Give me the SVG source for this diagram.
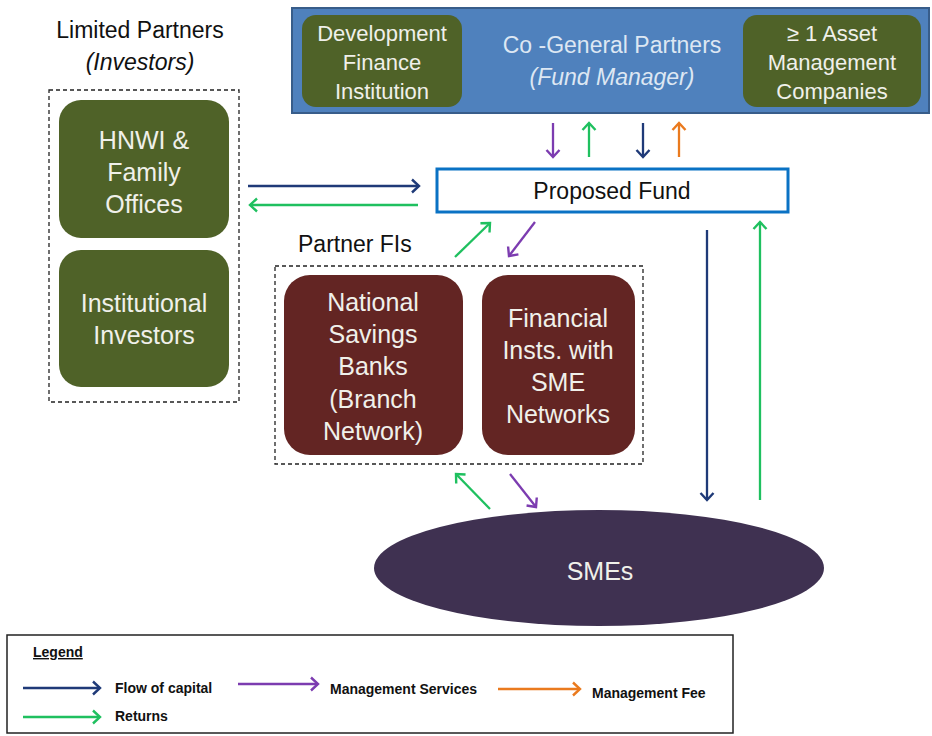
<svg xmlns="http://www.w3.org/2000/svg" width="932" height="736" viewBox="0 0 932 736">
<style>
text{font-family:"Liberation Sans","Open Sans",Arial,sans-serif;}
.lt{fill:#f0f0ea;font-size:22px;text-anchor:middle;}
.lt2{fill:#f0f0ea;font-size:25px;text-anchor:middle;}
.dk{fill:#111;font-size:23px;}
.gbox{fill:#4f6228;}
.mbox{fill:#632523;}
.dash{fill:none;stroke:#222;stroke-width:1.3;stroke-dasharray:4 3;}
.a{fill:none;stroke-width:2.3;}
.nv{stroke:#1f3a78;}
.gr{stroke:#1fc05f;}
.pu{stroke:#7c3cb0;}
.or{stroke:#ea7a1e;}
.lg{font-size:14px;font-weight:bold;fill:#111;}
</style>
<defs>
<marker id="mNv" markerWidth="16" markerHeight="16" refX="10" refY="8" orient="auto" markerUnits="userSpaceOnUse"><path d="M3,1.5 L10,8 L3,14.5" fill="none" stroke="#1f3a78" stroke-width="2.4"/></marker>
<marker id="mGr" markerWidth="16" markerHeight="16" refX="10" refY="8" orient="auto" markerUnits="userSpaceOnUse"><path d="M3,1.5 L10,8 L3,14.5" fill="none" stroke="#1fc05f" stroke-width="2.4"/></marker>
<marker id="mPu" markerWidth="16" markerHeight="16" refX="10" refY="8" orient="auto" markerUnits="userSpaceOnUse"><path d="M3,1.5 L10,8 L3,14.5" fill="none" stroke="#7c3cb0" stroke-width="2.4"/></marker>
<marker id="mOr" markerWidth="16" markerHeight="16" refX="10" refY="8" orient="auto" markerUnits="userSpaceOnUse"><path d="M3,1.5 L10,8 L3,14.5" fill="none" stroke="#ea7a1e" stroke-width="2.4"/></marker>
</defs>
<rect width="932" height="736" fill="#fff"/>

<g id="general-partners">
<rect x="292" y="8" width="637" height="105" fill="#4f81bd" stroke="#385d8a" stroke-width="2"/>
<text x="612" y="53" fill="#dde7f3" font-size="23" text-anchor="middle">Co -General Partners</text>
<text x="612" y="85" fill="#dde7f3" font-size="23" font-style="italic" text-anchor="middle">(Fund Manager)</text>
</g>
<g id="dfi">
<rect class="gbox" x="302" y="15" width="160" height="92" rx="14"/>
<text class="lt" x="382" y="41" font-size="19">Development</text>
<text class="lt" x="382" y="70" font-size="19">Finance</text>
<text class="lt" x="382" y="99" font-size="19">Institution</text>
</g>
<g id="amc">
<rect class="gbox" x="743" y="15" width="178" height="92" rx="14"/>
<text class="lt" x="832" y="41" font-size="19">≥ 1  Asset</text>
<text class="lt" x="832" y="70" font-size="19">Management</text>
<text class="lt" x="832" y="99" font-size="19">Companies</text>
</g>

<g id="limited-partners">
<text class="dk" x="140" y="38" font-size="24.5" text-anchor="middle">Limited Partners</text>
<text class="dk" x="140" y="70" font-size="24.5" font-style="italic" text-anchor="middle">(Investors)</text>
<rect class="dash" x="49" y="90" width="190" height="312"/>
</g>
<g id="hnwi">
<rect class="gbox" x="59" y="100" width="170" height="138" rx="22"/>
<text class="lt2" x="144" y="149">HNWI &amp;</text>
<text class="lt2" x="144" y="181">Family</text>
<text class="lt2" x="144" y="213">Offices</text>
</g>
<g id="institutional">
<rect class="gbox" x="59" y="250" width="170" height="137" rx="22"/>
<text class="lt2" x="144" y="312">Institutional</text>
<text class="lt2" x="144" y="344">Investors</text>
</g>

<g id="proposed-fund">
<rect x="437" y="169" width="351" height="43" fill="#fff" stroke="#0a72c4" stroke-width="3"/>
<text class="dk" x="612" y="199" text-anchor="middle">Proposed Fund</text>
</g>

<g id="partner-fis">
<text class="dk" x="298" y="252">Partner FIs</text>
<rect class="dash" x="275" y="266" width="368" height="198"/>
</g>
<g id="nsb">
<rect class="mbox" x="284" y="275" width="179" height="180" rx="26"/>
<text class="lt2" x="373" y="311">National</text>
<text class="lt2" x="373" y="343">Savings</text>
<text class="lt2" x="373" y="375">Banks</text>
<text class="lt2" x="373" y="408">(Branch</text>
<text class="lt2" x="373" y="440">Network)</text>
</g>
<g id="fi-sme">
<rect class="mbox" x="482" y="275" width="153" height="180" rx="26"/>
<text class="lt2" x="558" y="327">Financial</text>
<text class="lt2" x="558" y="359">Insts. with</text>
<text class="lt2" x="558" y="391">SME</text>
<text class="lt2" x="558" y="423">Networks</text>
</g>

<g id="smes">
<ellipse cx="599" cy="568" rx="225" ry="58" fill="#3f3151"/>
<text class="lt2" x="600" y="580">SMEs</text>
</g>

<g id="connectors">
<line class="a nv" x1="248" y1="186" x2="419" y2="186" marker-end="url(#mNv)"/>
<line class="a gr" x1="418" y1="205" x2="250" y2="205" marker-end="url(#mGr)"/>
<line class="a pu" x1="553" y1="123" x2="553" y2="157" marker-end="url(#mPu)"/>
<line class="a gr" x1="589" y1="157" x2="589" y2="123" marker-end="url(#mGr)"/>
<line class="a nv" x1="643" y1="123" x2="643" y2="157" marker-end="url(#mNv)"/>
<line class="a or" x1="679" y1="157" x2="679" y2="123" marker-end="url(#mOr)"/>
<line class="a gr" x1="455" y1="257" x2="490" y2="223" marker-end="url(#mGr)"/>
<line class="a pu" x1="535" y1="222" x2="509" y2="256" marker-end="url(#mPu)"/>
<line class="a gr" x1="490" y1="509" x2="456" y2="474" marker-end="url(#mGr)"/>
<line class="a pu" x1="510" y1="474" x2="536" y2="507" marker-end="url(#mPu)"/>
<line class="a nv" x1="707" y1="230" x2="707" y2="500" marker-end="url(#mNv)"/>
<line class="a gr" x1="760" y1="500" x2="760" y2="222" marker-end="url(#mGr)"/>
</g>

<g id="legend">
<rect x="7" y="635" width="726" height="98" fill="#fff" stroke="#222" stroke-width="1.5"/>
<text class="lg" x="33" y="657" text-decoration="underline">Legend</text>
<line class="a nv" x1="23" y1="688" x2="100" y2="688" marker-end="url(#mNv)"/>
<text class="lg" x="115" y="693">Flow of capital</text>
<line class="a gr" x1="23" y1="717" x2="100" y2="717" marker-end="url(#mGr)"/>
<text class="lg" x="115" y="721">Returns</text>
<line class="a pu" x1="238" y1="684" x2="318" y2="684" marker-end="url(#mPu)"/>
<text class="lg" x="330" y="694">Management Services</text>
<line class="a or" x1="498" y1="689" x2="580" y2="689" marker-end="url(#mOr)"/>
<text class="lg" x="592" y="698">Management Fee</text>
</g>
</svg>
